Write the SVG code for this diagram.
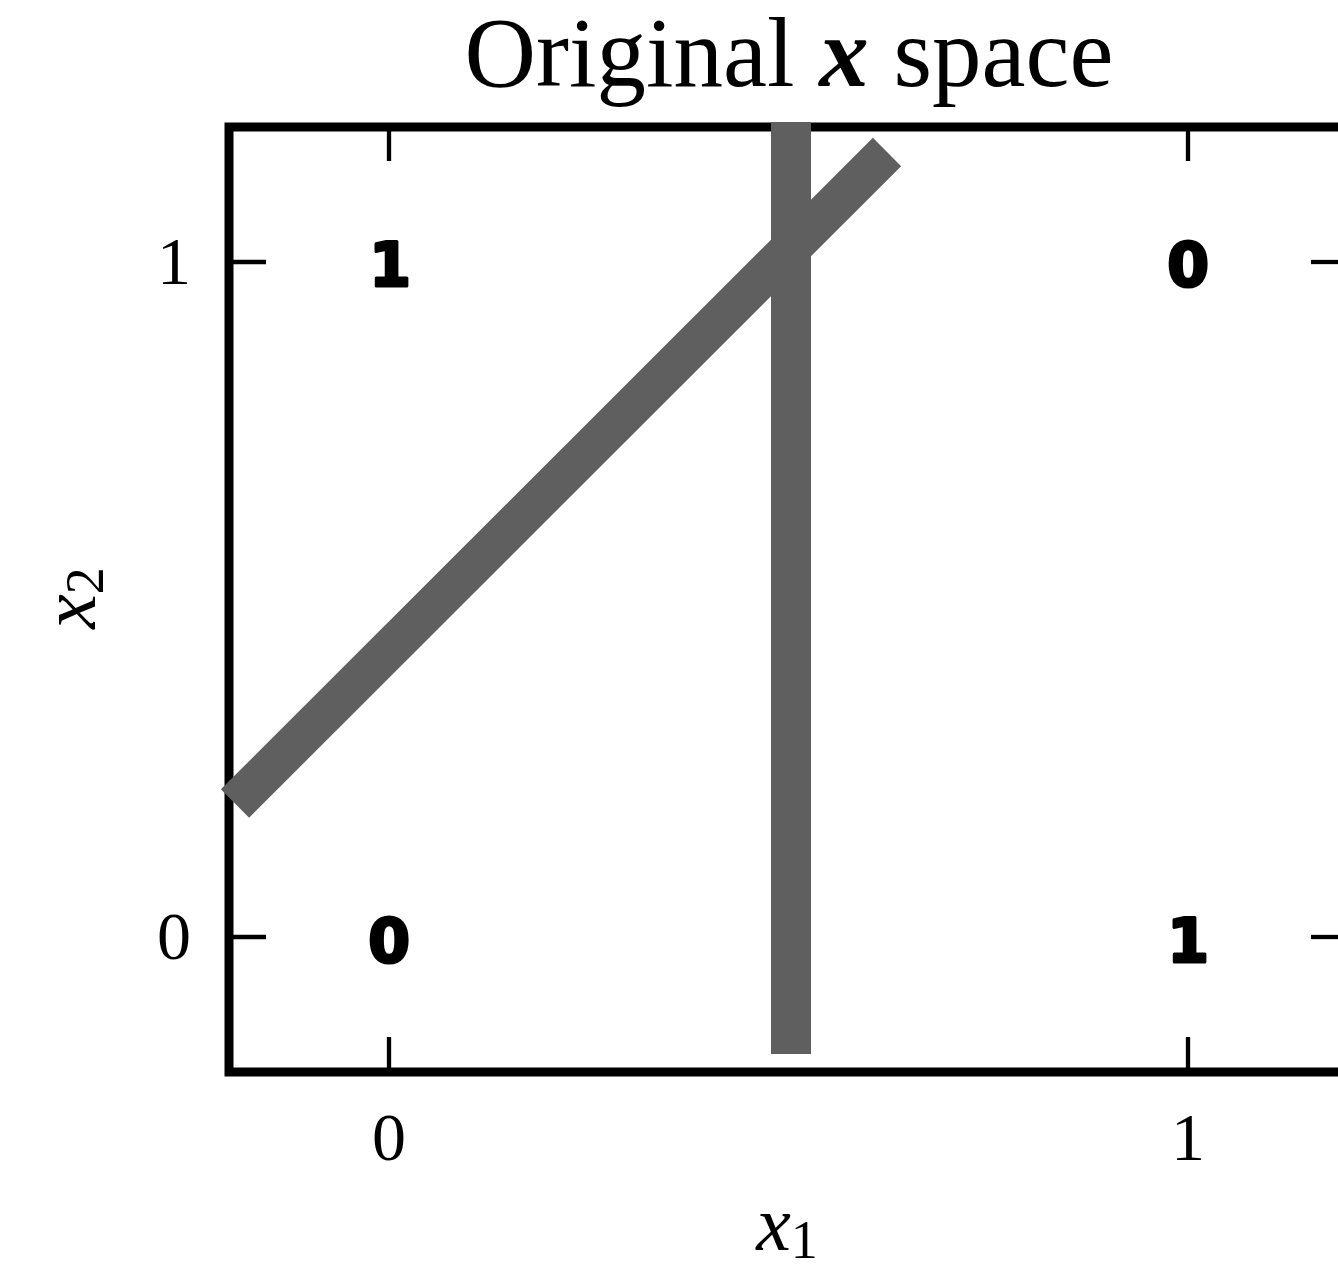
<svg xmlns="http://www.w3.org/2000/svg" width="1338" height="1270" viewBox="0 0 1338 1270">
<style>
.frame{stroke:#000;stroke-width:9;fill:none;stroke-linecap:square}
.tick{stroke:#000;stroke-width:4.3;fill:none}
.bar{stroke:#5f5f5f;stroke-width:40;fill:none;stroke-linecap:butt}
.serif{font-family:"Liberation Serif","Times New Roman",serif;fill:#000}
.tl{font-size:68px}
.lab{font-family:"DejaVu Sans",sans-serif;font-weight:bold;font-size:60px;fill:#000;stroke:#000;stroke-width:3;stroke-linejoin:round;text-anchor:middle}
</style>
<rect width="1338" height="1270" fill="#fff"/>
<g id="axes">
<path class="frame" d="M1345 127 H229 V1072 H1345"/>
<g id="ticks">
<line class="tick" x1="229" y1="262" x2="266" y2="262"/>
<line class="tick" x1="229" y1="937" x2="266" y2="937"/>
<line class="tick" x1="1311" y1="262" x2="1340" y2="262"/>
<line class="tick" x1="1311" y1="937" x2="1340" y2="937"/>
<line class="tick" x1="389" y1="127" x2="389" y2="161"/>
<line class="tick" x1="1188" y1="127" x2="1188" y2="161"/>
<line class="tick" x1="389" y1="1072" x2="389" y2="1037"/>
<line class="tick" x1="1188" y1="1072" x2="1188" y2="1037"/>
</g>
<g id="ticklabels" class="serif tl">
<text x="191" y="284" text-anchor="end">1</text>
<text x="191" y="959" text-anchor="end">0</text>
<text x="389" y="1160" text-anchor="middle">0</text>
<text x="1188" y="1160" text-anchor="middle">1</text>
</g>
</g>
<g id="connectors">
<line class="bar" x1="791" y1="122" x2="791" y2="1054"/>
<line class="bar" x1="235" y1="803.5" x2="887" y2="152"/>
</g>
<g id="node-00"><text class="lab" x="389" y="962">0</text></g>
<g id="node-01"><text class="lab" x="390" y="286">1</text></g>
<g id="node-10"><text class="lab" x="1188" y="962">1</text></g>
<g id="node-11"><text class="lab" x="1188" y="286">0</text></g>
<g id="title"><text class="serif" x="789" y="86" font-size="99" text-anchor="middle">Original <tspan font-style="italic" font-weight="bold">x</tspan> space</text></g>
<g id="xlabel"><text class="serif" x="787" y="1250" font-size="78" text-anchor="middle"><tspan font-style="italic">x</tspan><tspan font-size="54" dy="8">1</tspan></text></g>
<g id="ylabel"><text class="serif" transform="translate(95 598) rotate(-90)" font-size="78" text-anchor="middle"><tspan font-style="italic">x</tspan><tspan font-size="54" dy="8">2</tspan></text></g>
</svg>
